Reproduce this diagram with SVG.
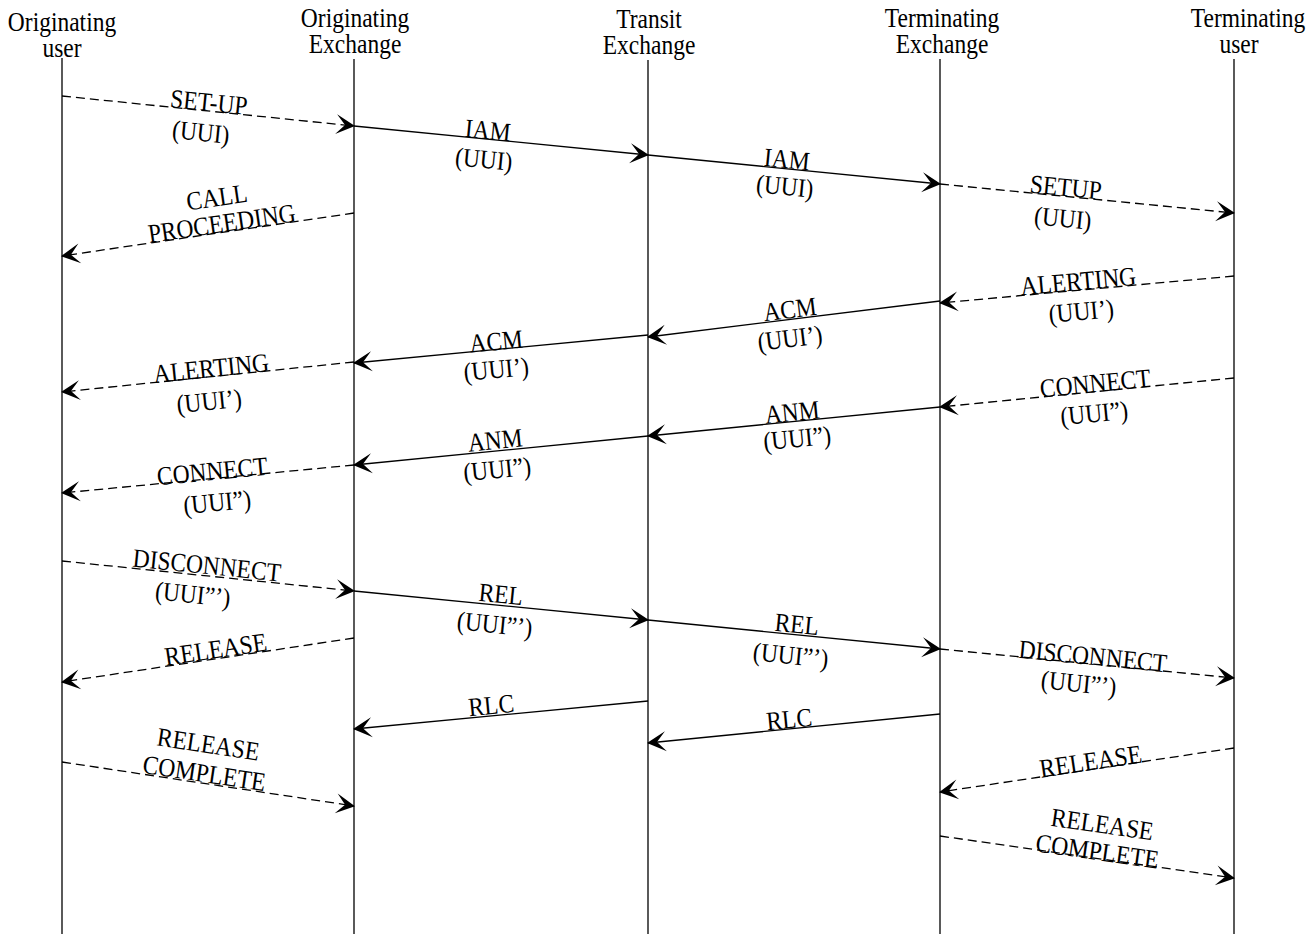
<svg xmlns="http://www.w3.org/2000/svg" width="1307" height="934" viewBox="0 0 1307 934">
<style>
  text { font-family: "Liberation Serif", "Times New Roman", serif; font-size: 23.5px; fill: #000; text-anchor: middle; }
  .life { stroke: #000; stroke-width: 1.3; fill: none; }
  .msg { stroke: #000; stroke-width: 1.3; fill: none; marker-end: url(#arr); }
  .dash { stroke-dasharray: 9 5; }
</style>
<defs>
  <marker id="arr" markerUnits="userSpaceOnUse" markerWidth="24" markerHeight="24" viewBox="-21 -12 24 24" refX="0" refY="0" orient="auto">
    <path d="M1,0 L-18,-10 L-9,0 L-18,10 Z" fill="#000"/>
  </marker>
</defs>
<rect width="1307" height="934" fill="#fff"/>

<g id="originating-user">
  <text transform="translate(62,31) scale(1,1.12)">Originating</text>
  <text transform="translate(62,57) scale(1,1.12)">user</text>
  <line class="life" x1="62" y1="58" x2="62" y2="934"/>
</g>
<g id="originating-exchange">
  <text transform="translate(355,27) scale(1,1.12)">Originating</text>
  <text transform="translate(355,53) scale(1,1.12)">Exchange</text>
  <line class="life" x1="354" y1="59" x2="354" y2="934"/>
</g>
<g id="transit-exchange">
  <text transform="translate(649,28) scale(1,1.12)">Transit</text>
  <text transform="translate(649,54) scale(1,1.12)">Exchange</text>
  <line class="life" x1="648" y1="60" x2="648" y2="934"/>
</g>
<g id="terminating-exchange">
  <text transform="translate(942,27) scale(1,1.12)">Terminating</text>
  <text transform="translate(942,53) scale(1,1.12)">Exchange</text>
  <line class="life" x1="940" y1="59" x2="940" y2="934"/>
</g>
<g id="terminating-user">
  <text transform="translate(1248,27) scale(1,1.12)">Terminating</text>
  <text transform="translate(1239,53) scale(1,1.12)">user</text>
  <line class="life" x1="1234" y1="59" x2="1234" y2="934"/>
</g>

<g id="connectors">
  <g id="m1">
    <line class="msg dash" x1="62" y1="96" x2="354" y2="126"/>
    <text transform="translate(208,111) rotate(5.87) scale(1,1.12)">SET-UP</text>
    <text transform="translate(200,141) rotate(5.87) scale(1,1.12)">(UUI)</text>
  </g>
  <g id="m2">
    <line class="msg" x1="354" y1="126" x2="648" y2="155"/>
    <text transform="translate(487,139) rotate(5.63) scale(1,1.12)">IAM</text>
    <text transform="translate(483,168) rotate(5.63) scale(1,1.12)">(UUI)</text>
  </g>
  <g id="m3">
    <line class="msg" x1="648" y1="155" x2="940" y2="184"/>
    <text transform="translate(786,168) rotate(5.67) scale(1,1.12)">IAM</text>
    <text transform="translate(784,195) rotate(5.67) scale(1,1.12)">(UUI)</text>
  </g>
  <g id="m4">
    <line class="msg dash" x1="940" y1="184" x2="1234" y2="213"/>
    <text transform="translate(1065,196) rotate(5.63) scale(1,1.12)">SETUP</text>
    <text transform="translate(1062,227) rotate(5.63) scale(1,1.12)">(UUI)</text>
  </g>
  <g id="m5">
    <line class="msg dash" x1="354" y1="213" x2="62" y2="256"/>
    <text transform="translate(218,206) rotate(-8.38) scale(1,1.12)">CALL</text>
    <text transform="translate(223,232) rotate(-8.38) scale(1,1.12)">PROCEEDING</text>
  </g>
  <g id="m6">
    <line class="msg dash" x1="1234" y1="276" x2="940" y2="303"/>
    <text transform="translate(1079,290) rotate(-5.25) scale(1,1.12)">ALERTING</text>
    <text transform="translate(1082,320) rotate(-5.25) scale(1,1.12)">(UUI’)</text>
  </g>
  <g id="m7">
    <line class="msg" x1="940" y1="301" x2="648" y2="337"/>
    <text transform="translate(791,318) rotate(-7.03) scale(1,1.12)">ACM</text>
    <text transform="translate(791,347) rotate(-7.03) scale(1,1.12)">(UUI’)</text>
  </g>
  <g id="m8">
    <line class="msg" x1="648" y1="335" x2="354" y2="363"/>
    <text transform="translate(497,350) rotate(-5.44) scale(1,1.12)">ACM</text>
    <text transform="translate(497,378) rotate(-5.44) scale(1,1.12)">(UUI’)</text>
  </g>
  <g id="m9">
    <line class="msg dash" x1="354" y1="362" x2="62" y2="392"/>
    <text transform="translate(212,377) rotate(-5.87) scale(1,1.12)">ALERTING</text>
    <text transform="translate(210,410) rotate(-5.87) scale(1,1.12)">(UUI’)</text>
  </g>
  <g id="m10">
    <line class="msg dash" x1="1234" y1="378" x2="940" y2="407"/>
    <text transform="translate(1096,392) rotate(-5.63) scale(1,1.12)">CONNECT</text>
    <text transform="translate(1095,422) rotate(-5.63) scale(1,1.12)">(UUI”)</text>
  </g>
  <g id="m11">
    <line class="msg" x1="940" y1="407" x2="648" y2="436"/>
    <text transform="translate(793,421) rotate(-5.67) scale(1,1.12)">ANM</text>
    <text transform="translate(798,447) rotate(-5.67) scale(1,1.12)">(UUI”)</text>
  </g>
  <g id="m12">
    <line class="msg" x1="648" y1="436" x2="354" y2="465"/>
    <text transform="translate(496,449) rotate(-5.63) scale(1,1.12)">ANM</text>
    <text transform="translate(498,478) rotate(-5.63) scale(1,1.12)">(UUI”)</text>
  </g>
  <g id="m13">
    <line class="msg dash" x1="354" y1="465" x2="62" y2="493"/>
    <text transform="translate(213,480) rotate(-5.48) scale(1,1.12)">CONNECT</text>
    <text transform="translate(218,511) rotate(-5.48) scale(1,1.12)">(UUI”)</text>
  </g>
  <g id="m14">
    <line class="msg dash" x1="62" y1="561" x2="354" y2="591"/>
    <text transform="translate(206,574) rotate(5.87) scale(1,1.12)">DISCONNECT</text>
    <text transform="translate(192,603) rotate(5.87) scale(1,1.12)">(UUI”’)</text>
  </g>
  <g id="m15">
    <line class="msg" x1="354" y1="591" x2="648" y2="620"/>
    <text transform="translate(500,603) rotate(5.63) scale(1,1.12)">REL</text>
    <text transform="translate(494,633) rotate(5.63) scale(1,1.12)">(UUI”’)</text>
  </g>
  <g id="m16">
    <line class="msg" x1="648" y1="620" x2="940" y2="649"/>
    <text transform="translate(796,633) rotate(5.67) scale(1,1.12)">REL</text>
    <text transform="translate(790,664) rotate(5.67) scale(1,1.12)">(UUI”’)</text>
  </g>
  <g id="m17">
    <line class="msg dash" x1="940" y1="649" x2="1234" y2="678"/>
    <text transform="translate(1092,665) rotate(5.63) scale(1,1.12)">DISCONNECT</text>
    <text transform="translate(1078,692) rotate(5.63) scale(1,1.12)">(UUI”’)</text>
  </g>
  <g id="m18">
    <line class="msg dash" x1="354" y1="638" x2="62" y2="682"/>
    <text transform="translate(217,658) rotate(-8.57) scale(1,1.12)">RELEASE</text>
  </g>
  <g id="m19">
    <line class="msg" x1="648" y1="701" x2="354" y2="729"/>
    <text transform="translate(492,714) rotate(-5.44) scale(1,1.12)">RLC</text>
  </g>
  <g id="m20">
    <line class="msg" x1="940" y1="714" x2="648" y2="743"/>
    <text transform="translate(790,728) rotate(-5.67) scale(1,1.12)">RLC</text>
  </g>
  <g id="m21">
    <line class="msg dash" x1="1234" y1="748" x2="940" y2="792"/>
    <text transform="translate(1092,770) rotate(-8.51) scale(1,1.12)">RELEASE</text>
  </g>
  <g id="m22">
    <line class="msg dash" x1="62" y1="762" x2="354" y2="806"/>
    <text transform="translate(207,753) rotate(8.57) scale(1,1.12)">RELEASE</text>
    <text transform="translate(203,782) rotate(8.57) scale(1,1.12)">COMPLETE</text>
  </g>
  <g id="m23">
    <line class="msg dash" x1="940" y1="836" x2="1234" y2="878"/>
    <text transform="translate(1101,833) rotate(8.13) scale(1,1.12)">RELEASE</text>
    <text transform="translate(1096,860) rotate(8.13) scale(1,1.12)">COMPLETE</text>
  </g>
</g>
</svg>
